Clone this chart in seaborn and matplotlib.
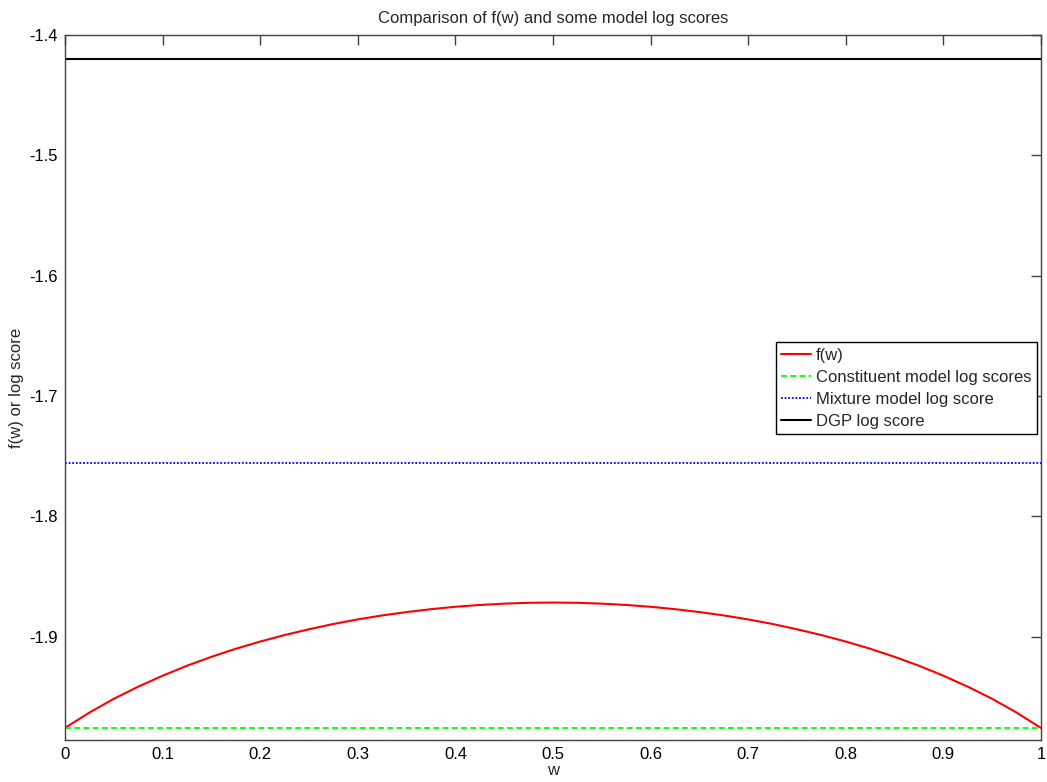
import numpy as np
import pandas as pd
import matplotlib
matplotlib.use("Agg")
import matplotlib.pyplot as plt
import seaborn as sns

# ---- data ----
w_vals = [0.0, 0.025, 0.05, 0.075, 0.1, 0.125, 0.15, 0.175, 0.2, 0.225, 0.25,
          0.275, 0.3, 0.325, 0.35, 0.375, 0.4, 0.425, 0.45, 0.475, 0.5,
          0.525, 0.55, 0.575, 0.6, 0.625, 0.65, 0.675, 0.7, 0.725, 0.75,
          0.775, 0.8, 0.825, 0.85, 0.875, 0.9, 0.925, 0.95, 0.975, 1.0]
f_vals = [-1.9758, -1.9630, -1.9516, -1.9415, -1.9324, -1.9241, -1.9167, -1.9100,
          -1.9040, -1.8986, -1.8938, -1.8894, -1.8856, -1.8823, -1.8795, -1.8771,
          -1.8751, -1.8736, -1.8725, -1.8718, -1.8716,
          -1.8718, -1.8725, -1.8736, -1.8751, -1.8771, -1.8795, -1.8823, -1.8856,
          -1.8894, -1.8938, -1.8986, -1.9040, -1.9100, -1.9167, -1.9241, -1.9324,
          -1.9415, -1.9516, -1.9630, -1.9758]
constituent_score = -1.9758
mixture_score = -1.7556
dgp_score = -1.4200
w_range = [0.0, 1.0]

x_ticks = [0, 0.1, 0.2, 0.3, 0.4, 0.5, 0.6, 0.7, 0.8, 0.9, 1]
x_tick_labels = ["0", "0.1", "0.2", "0.3", "0.4", "0.5", "0.6", "0.7", "0.8", "0.9", "1"]
y_ticks = [-1.9, -1.8, -1.7, -1.6, -1.5, -1.4]
y_tick_labels = ["-1.9", "-1.8", "-1.7", "-1.6", "-1.5", "-1.4"]
y_limits = [-1.9858, -1.4]

sns.set_style("white")
plt.rcParams['font.family'] = ['Liberation Sans', 'DejaVu Sans']

fig = plt.figure(figsize=(10.47, 7.82), dpi=100)
ax = fig.add_axes([65 / 1047, 1 - 740 / 782, 976 / 1047, 705 / 782])

sns.lineplot(x=w_vals, y=f_vals, ax=ax, color="#ff0000", linewidth=1.5,
             label="f(w)", estimator=None, sort=False)
sns.lineplot(x=w_range, y=[constituent_score] * 2, ax=ax, color="#00ff00",
             linewidth=1.3, linestyle=(0, (3.3, 1.8)), label="Constituent model log scores",
             estimator=None)
sns.lineplot(x=w_range, y=[mixture_score] * 2, ax=ax, color="#0000ff",
             linewidth=1.3, linestyle=(0, (1, 1)), label="Mixture model log score",
             estimator=None)
sns.lineplot(x=w_range, y=[dgp_score] * 2, ax=ax, color="#000000",
             linewidth=1.5, label="DGP log score", estimator=None)

ax.set_xlim(0, 1)
ax.set_ylim(*y_limits)
ax.set_xticks(x_ticks)
ax.set_xticklabels(x_tick_labels)
ax.set_yticks(y_ticks)
ax.set_yticklabels(y_tick_labels)

for s in ax.spines.values():
    s.set_visible(True)
    s.set_color("#404040")
    s.set_linewidth(1.0)
ax.tick_params(direction="in", length=7, width=1.0, color="#404040",
               top=True, right=True, labelsize=12, labelcolor="#000000", pad=5)

ax.set_title("Comparison of f(w) and some model log scores", fontsize=12, pad=9)
ax.set_xlabel("w", fontsize=12, labelpad=1)
ax.set_ylabel("f(w) or log score", fontsize=12, labelpad=4)

leg = ax.legend(loc="upper right", bbox_to_anchor=(0.9956, 0.5641), fontsize=12,
                frameon=True, fancybox=False, shadow=False, framealpha=1,
                borderaxespad=0, handlelength=1.8, handletextpad=0.3,
                labelspacing=0.42, borderpad=0.32)
leg.get_frame().set_edgecolor("#000000")
leg.get_frame().set_linewidth(1.0)

fig.savefig("out.png", dpi=100)
